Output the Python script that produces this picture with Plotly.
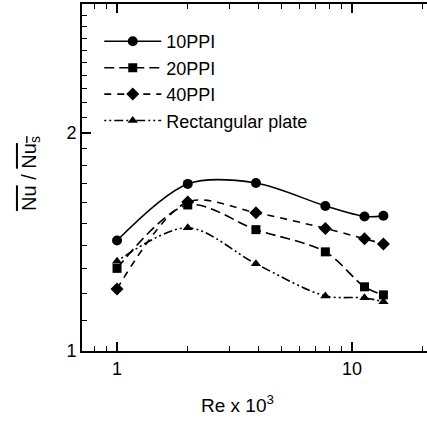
import plotly.graph_objects as go

# ---- data ----
re_x = [1.0, 2.0, 3.9, 7.7, 11.3, 13.6]
ppi10 = [1.42, 1.70, 1.705, 1.585, 1.533, 1.536]
ppi20 = [1.30, 1.59, 1.47, 1.37, 1.226, 1.195]
ppi40 = [1.218, 1.605, 1.551, 1.476, 1.428, 1.405]
rect_plate = [1.33, 1.479, 1.319, 1.191, 1.184, 1.169]

series_names = ["10PPI", "20PPI", "40PPI", "Rectangular plate"]

x_tick_vals = [1, 10]
x_tick_text = ["1", "10"]
x_minor_vals = [0.8, 0.9, 2, 3, 4, 5, 6, 7, 8, 9, 20]
y_tick_vals = [1, 2]
y_tick_text = ["1", "2"]
y_minor_vals = [1.1, 1.2, 1.3, 1.4, 1.5, 1.6, 1.7, 1.8, 1.9,
                2.1, 2.2, 2.3, 2.4, 2.5, 2.6, 2.7, 2.8, 2.9, 3.0]

FONT = "Liberation Sans, Arial, Helvetica, sans-serif"

fig = go.Figure()

styles = [
    (ppi10, dict(symbol="circle", size=10), "solid"),
    (ppi20, dict(symbol="square", size=9), "10px,5px"),
    (ppi40, dict(symbol="diamond", size=10), "7px,6px"),
    (rect_plate, dict(symbol="triangle-up", size=9), "2px,3px,2px,3px,9px,3px"),
]

for name, (ys, mk, dash) in zip(series_names, styles):
    fig.add_trace(go.Scatter(
        x=re_x, y=ys, name=name, mode="lines+markers",
        line=dict(color="black", width=1.6, dash=dash, shape="spline", smoothing=0.9),
        marker=dict(color="black", **mk),
    ))

axis_common = dict(
    showgrid=False, zeroline=False, showline=True, linecolor="black", linewidth=2,
    ticks="inside", tickcolor="black", tickwidth=1.5, ticklen=9,
    tickfont=dict(family=FONT, size=18, color="black"),
)

fig.update_xaxes(
    type="log", range=[-0.149, 1.319], tickmode="array",
    tickvals=x_tick_vals, ticktext=x_tick_text, mirror="allticks",
    minor=dict(ticks="inside", tickvals=x_minor_vals, ticklen=5, tickcolor="black", tickwidth=1.2),
    **axis_common,
)
fig.update_yaxes(
    type="log", range=[0, 0.4785], tickmode="array",
    tickvals=y_tick_vals, ticktext=y_tick_text, mirror=False,
    minor=dict(ticks="inside", tickvals=y_minor_vals, ticklen=5, tickcolor="black", tickwidth=1.2),
    **axis_common,
)

fig.add_annotation(
    text='<span style="text-decoration:overline">Nu</span> / <span style="text-decoration:overline">Nu<sub>s</sub></span>',
    xref="paper", yref="paper", x=-0.148, y=0.513, textangle=-90,
    showarrow=False, font=dict(family=FONT, size=20, color="black"),
    xanchor="center", yanchor="middle",
)
fig.add_annotation(
    text="Re x 10<sup>3</sup>",
    xref="paper", yref="paper", x=0.452, y=-0.152,
    showarrow=False, font=dict(family=FONT, size=19, color="black"),
    xanchor="center", yanchor="middle",
)

fig.update_layout(
    width=427, height=423,
    margin=dict(l=82, r=0, t=4, b=72),
    paper_bgcolor="white", plot_bgcolor="white",
    showlegend=True,
    legend=dict(
        x=0.05, y=0.945, xanchor="left", yanchor="top",
        bgcolor="rgba(0,0,0,0)", font=dict(family=FONT, size=18, color="black"),
        itemwidth=57, tracegroupgap=0,
    ),
)

fig.write_html("out.html")
